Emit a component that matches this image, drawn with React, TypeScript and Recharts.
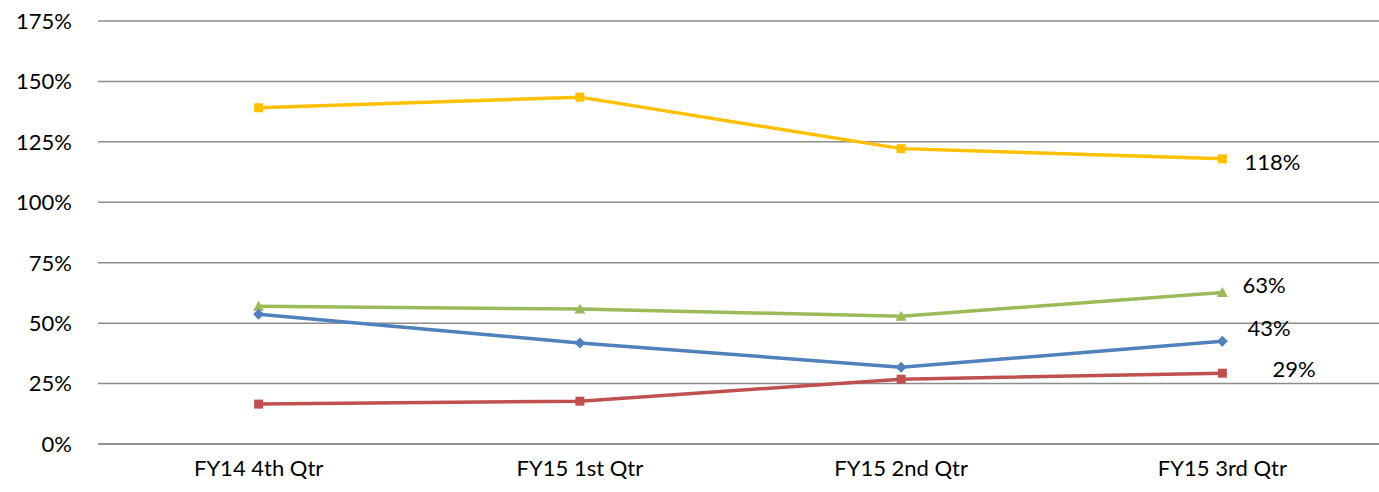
import { LineChart, Line, XAxis, YAxis, CartesianGrid, LabelList } from 'recharts'

const quarters = ['FY14 4th Qtr', 'FY15 1st Qtr', 'FY15 2nd Qtr', 'FY15 3rd Qtr']
const yellowVals = [139.1, 143.5, 122.2, 118]
const greenVals = [57, 55.8, 52.9, 62.7]
const blueVals = [53.7, 41.8, 31.8, 42.5]
const redVals = [16.5, 17.7, 26.8, 29.3]
const yTicks = [0, 25, 50, 75, 100, 125, 150, 175]

const data = quarters.map((q, i) => ({
  q,
  yellow: yellowVals[i],
  green: greenVals[i],
  blue: blueVals[i],
  red: redVals[i],
}))

const FONT = 'Lato, "Liberation Sans", sans-serif'

function Square(props: any) {
  const { cx, cy, fill } = props
  if (cx == null || cy == null) return null
  return <rect x={cx - 4.5} y={cy - 4.5} width={9} height={9} fill={fill} />
}

function Triangle(props: any) {
  const { cx, cy, fill } = props
  if (cx == null || cy == null) return null
  return <polygon points={`${cx},${cy - 5.5} ${cx + 5.5},${cy + 4.5} ${cx - 5.5},${cy + 4.5}`} fill={fill} />
}

function Diamond(props: any) {
  const { cx, cy, fill } = props
  if (cx == null || cy == null) return null
  return <polygon points={`${cx},${cy - 5.5} ${cx + 5.5},${cy} ${cx},${cy + 5.5} ${cx - 5.5},${cy}`} fill={fill} />
}

function lastLabel(dx: number, dy: number) {
  return (props: any) => {
    const { x, y, value, index } = props
    if (index !== quarters.length - 1) return null
    return (
      <text x={x + dx} y={y + dy} fontSize={22} fontFamily={FONT} fill="#000" dominantBaseline="central">
        {Math.round(value)}%
      </text>
    )
  }
}

const series = [
  { key: 'yellow', color: '#FFC000', dot: Square, label: lastLabel(22, 3) },
  { key: 'green', color: '#9BBB59', dot: Triangle, label: lastLabel(20, -8) },
  { key: 'blue', color: '#4F81BD', dot: Diamond, label: lastLabel(25, -14) },
  { key: 'red', color: '#C0504D', dot: Square, label: lastLabel(50, -5) },
]

export default function App() {
  return (
    <div style={{ position: 'absolute', left: 0, top: 0, width: 1379, height: 492, overflow: 'hidden' }}>
      <LineChart width={1384} height={492} data={data} margin={{ top: 21, right: 1, bottom: 0, left: 0 }}>
        <CartesianGrid vertical={false} stroke="#8c8c8c" strokeWidth={1.5} />
        <XAxis
          dataKey="q"
          scale="band"
          height={48}
          axisLine={{ stroke: '#8c8c8c', strokeWidth: 1.5 }}
          tickLine={false}
          tickSize={0}
          tickMargin={16}
          tick={{ fontSize: 22, fontFamily: FONT, fill: '#000' }}
        />
        <YAxis
          width={98}
          domain={[0, 175]}
          ticks={yTicks}
          interval={0}
          tickFormatter={(v: number) => `${v}%`}
          axisLine={false}
          tickLine={false}
          tickSize={0}
          tickMargin={26}
          tick={{ fontSize: 22, fontFamily: FONT, fill: '#000' }}
        />
        {series.map((s) => {
          const Dot = s.dot
          return (
            <Line
              key={s.key}
              type="linear"
              dataKey={s.key}
              stroke={s.color}
              strokeWidth={3.5}
              dot={(p: any) => <Dot key={`${s.key}-${p.index}`} {...p} fill={s.color} />}
              activeDot={false}
              isAnimationActive={false}
            >
              <LabelList dataKey={s.key} content={s.label} />
            </Line>
          )
        })}
      </LineChart>
    </div>
  )
}
